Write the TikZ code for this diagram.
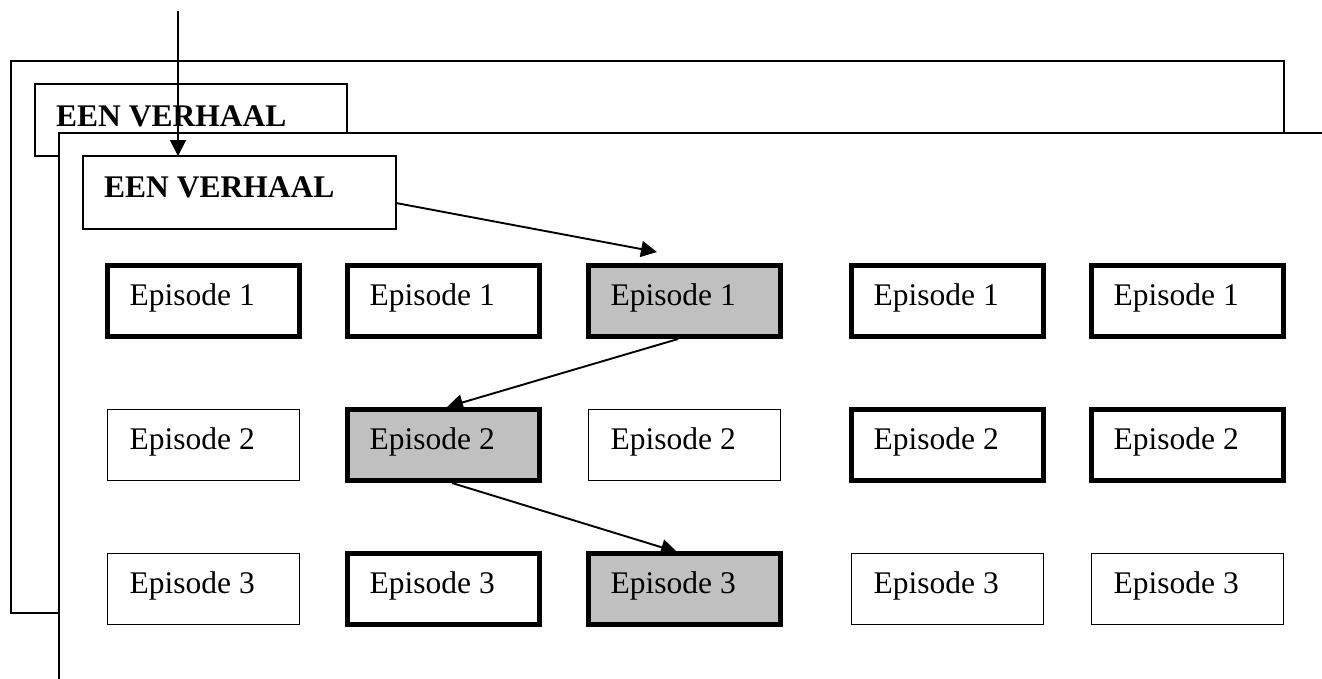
\documentclass[tikz,border=0pt]{standalone}
\usepackage{fontspec}
\setmainfont{Liberation Serif}
\usetikzlibrary{arrows.meta,calc}
\definecolor{boxgray}{RGB}{192,192,192}

% one episode: name, x, y (top-left corner), extra style, text
\newcommand\episode[5]{%
  \node[epbox,#4] (#1) at (#2,#3) {};
  \node[eptext] (#1-t) at ($(#1.north west)+(22,40)$) {#5};}

\begin{document}
\begin{tikzpicture}[x=1pt,y=-1pt,
  frame/.style={draw=black,line width=1.8pt,fill=white},
  headbox/.style={draw=black,line width=1.8pt,fill=white,inner sep=0pt,outer sep=0pt,anchor=north west},
  epbox/.style={draw=black,line width=1.8pt,fill=white,minimum width=192pt,minimum height=71pt,inner sep=0pt,outer sep=0pt,anchor=north west},
  heavy/.style={line width=5pt},
  picked/.style={line width=5pt,fill=boxgray},
  eptext/.style={anchor=base west,inner sep=0pt,font=\fontsize{31.5}{38}\selectfont},
  headtext/.style={anchor=base west,inner sep=0pt,font=\fontsize{31.5}{38}\selectfont\bfseries},
  link/.style={line width=1.9pt,-{Triangle[length=16pt,width=16pt]}}]

\useasboundingbox (0,0) rectangle (1322,678);
\clip (0,0) rectangle (1322,678);

% back sheet with its heading
\draw[frame] (11,61) rectangle (1284,613);
\node[headbox,minimum width=312pt,minimum height=72pt] (backhead) at (35,84) {};
\node[headtext] (backhead-t) at ($(backhead.north west)+(21,42)$) {EEN VERHAAL};

% front sheet with its heading
\draw[frame] (59,133) rectangle (1400,720);
\node[headbox,minimum width=313pt,minimum height=73pt] (fronthead) at (83,156) {};
\node[headtext] (fronthead-t) at ($(fronthead.north west)+(21,41)$) {EEN VERHAAL};

% grid of episodes
\episode{e11}{107.5}{265.5}{heavy}{Episode 1}
\episode{e12}{347.5}{265.5}{heavy}{Episode 1}
\episode{e13}{588.5}{265.5}{picked}{Episode 1}
\episode{e14}{851.5}{265.5}{heavy}{Episode 1}
\episode{e15}{1091.5}{265.5}{heavy}{Episode 1}

\episode{e21}{107.5}{409.5}{}{Episode 2}
\episode{e22}{347.5}{409.5}{picked}{Episode 2}
\episode{e23}{588.5}{409.5}{}{Episode 2}
\episode{e24}{851.5}{409.5}{heavy}{Episode 2}
\episode{e25}{1091.5}{409.5}{heavy}{Episode 2}

\episode{e31}{107.5}{553.5}{}{Episode 3}
\episode{e32}{347.5}{553.5}{heavy}{Episode 3}
\episode{e33}{588.5}{553.5}{picked}{Episode 3}
\episode{e34}{851.5}{553.5}{}{Episode 3}
\episode{e35}{1091.5}{553.5}{}{Episode 3}

% path through the story
\coordinate (entry) at (178,11);
\coordinate (t1) at (657,252);
\draw[link] (entry) -- (entry |- fronthead.north);
\draw[link] ($(fronthead.east)+(0,10.5)$) -- (t1);
\draw[link] ($(e13.south)+(-6.5,2.5)$) -- ($(e22.north)+(3.5,-2.5)$);
\draw[link] ($(e22.south)+(8.5,2.5)$) -- ($(e33.north)+(-7.5,-1.5)$);
\end{tikzpicture}
\end{document}
